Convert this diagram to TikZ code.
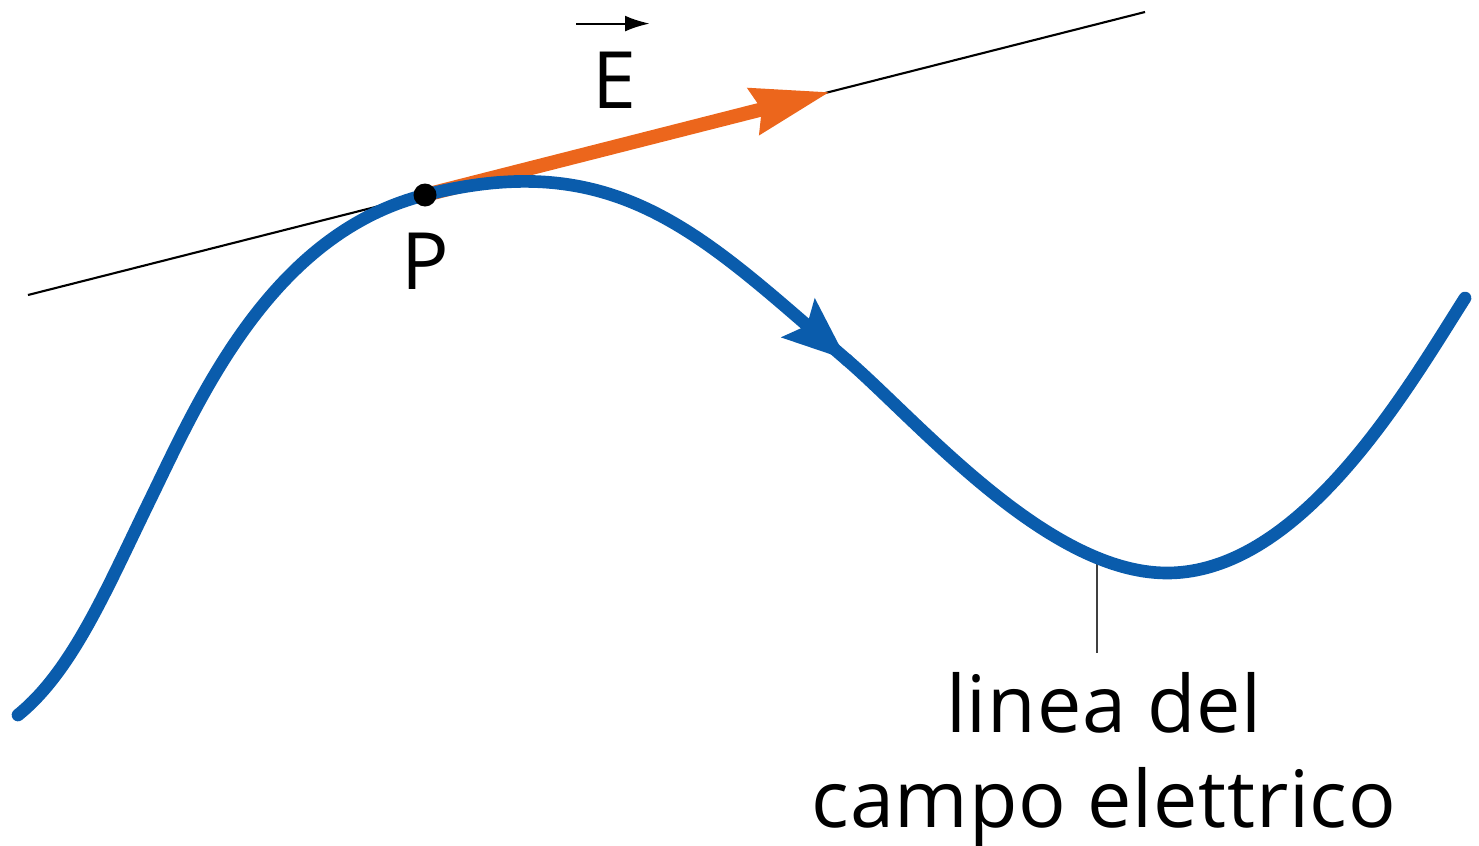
\documentclass[tikz,border=0pt]{standalone}
\usepackage{fontspec}
\setmainfont{Open Sans}[LetterSpace=1.0]
\usetikzlibrary{arrows.meta,positioning,decorations.markings}

\definecolor{fieldblue}{RGB}{10,92,172}
\definecolor{vecorange}{RGB}{236,102,28}

\begin{document}
\begin{tikzpicture}[font=\fontsize{22.5}{27}\selectfont,
  fieldline/.style={fieldblue, line width=3.6pt, line cap=round},
  headatend/.style={postaction={decorate}, decoration={markings,
      mark=at position 1 with {\arrow{Stealth[length=18pt, width=14pt, inset=3pt]}}}},
  evec/.style={vecorange, line width=4pt, -{Stealth[length=22pt, width=13pt, inset=2pt]}},
  tangent/.style={black, line width=0.6pt},
  leader/.style={black!75, line width=0.8pt}]
  \useasboundingbox (0,0) rectangle (14.79,8.45);

  \coordinate (S) at (0.18,1.30);
  \coordinate (M) at (1.50,3.45);
  \coordinate (P) at (4.25,6.50);
  \coordinate (I) at (8.47,4.85);
  \coordinate (Min) at (11.67,2.72);
  \coordinate (F) at (14.65,5.47);
  \coordinate (foot) at (10.97,2.84);

  % tangent at P
  \coordinate (T1) at (0.28,5.50);
  \coordinate (T2) at (11.45,8.33);
  \coordinate (Etip) at (8.30,7.53);
  \draw[tangent] (T1) -- (T2);

  % label of the field line
  \node[below=1.11cm of foot, xshift=0.07cm, inner sep=0pt, align=center] (caption) {linea del\\campo elettrico};
  \coordinate (capTop) at ([yshift=0.19cm]caption.north);
  \draw[leader] (foot) -- (foot |- capTop);

  \draw[evec] (P) -- (Etip);

  % the field line
  \draw[fieldline, headatend]
    (S) .. controls +(39:0.7) and +(244:1.0) .. (M)
        .. controls +(64:1.1) and +(194.2:1.6) .. (P)
        .. controls +(14.2:2.0) and +(139.3:1.9) .. (I);
  \draw[fieldline]
    (I) .. controls +(-40.7:0.93) and +(180:1.2) .. (Min)
        .. controls +(0:1.35) and +(237.5:1.05) .. (F);

  \fill (P) circle (0.115);
  \node[below=0.37cm of P, inner sep=0pt] (Plabel) {P};

  \node[inner sep=0pt] (Elabel) at (6.14,7.645) {E};
  \draw[line width=0.6pt, -{Latex[length=7pt, width=4.5pt]}]
    ([shift={(-0.15,0.28)}]Elabel.north west) -- ([shift={(0.13,0.28)}]Elabel.north east);
\end{tikzpicture}
\end{document}
